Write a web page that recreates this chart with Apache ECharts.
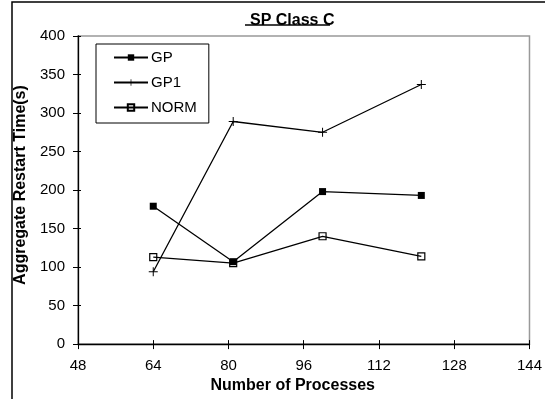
<!DOCTYPE html>
<html>
<head>
<meta charset="utf-8">
<script src="https://cdn.jsdelivr.net/npm/echarts@6/dist/echarts.min.js"></script>
<style>
html,body{margin:0;padding:0;background:#fff;}
#c{width:545px;height:399px;}
</style>
</head>
<body>
<div id="c"></div>
<script>
const processes = [64, 81, 100, 121];
const gpValues = [179, 107, 198, 193];
const gp1Values = [94, 289, 275, 337];
const normValues = [113, 105, 140, 114];
const xTicks = [48, 64, 80, 96, 112, 128, 144];
const yTicks = [0, 50, 100, 150, 200, 250, 300, 350, 400];

const FONT = "'Liberation Sans', Arial, sans-serif";
const plusPath = 'path://M4,0 L5,0 L5,4 L9,4 L9,5 L5,5 L5,9 L4,9 L4,5 L0,5 L0,4 L4,4 Z';

function pairs(vals) { return processes.map((x, i) => [x, vals[i]]); }

const chart = echarts.init(document.getElementById('c'), null, {renderer: 'canvas'});

chart.setOption({
  animation: false,
  backgroundColor: '#fff',
  title: {
    text: 'SP Class C',
    left: 245, top: 8,
    textStyle: {fontFamily: FONT, fontSize: 16, fontWeight: 'bold', color: '#000'}
  },
  grid: {
    left: 78, top: 36, width: 456, height: 308.5,
    show: true, borderColor: '#999', borderWidth: 1.5, backgroundColor: 'transparent'
  },
  legend: {
    orient: 'vertical', left: 96, top: 44,
    padding: [6, 12, 8, 17],
    itemGap: 10, itemWidth: 34, itemHeight: 8,
    borderColor: '#000', borderWidth: 1,
    textStyle: {fontFamily: FONT, fontSize: 15, color: '#000', padding: [0, 0, 0, -2], height: 15, lineHeight: 15},
    data: ['GP', 'GP1', 'NORM']
  },
  xAxis: [{
    type: 'value', min: xTicks[0], max: xTicks[xTicks.length - 1], interval: 16,
    name: 'Number of Processes', nameLocation: 'middle', nameGap: 31,
    nameTextStyle: {fontFamily: FONT, fontSize: 16, fontWeight: 'bold', color: '#000', padding: [0, 22, 0, 0]},
    axisLine: {show: true, lineStyle: {color: '#000', width: 1.3}},
    axisTick: {show: true, length: 5, lineStyle: {color: '#000', width: 1}},
    axisLabel: {margin: 14, color: '#000', fontSize: 15, fontFamily: FONT},
    splitLine: {show: false}
  }, {
    type: 'value', min: xTicks[0], max: xTicks[xTicks.length - 1], interval: 16, position: 'bottom',
    axisLine: {show: false},
    axisTick: {show: true, inside: true, length: 4, lineStyle: {color: '#000', width: 1}},
    axisLabel: {show: false}, splitLine: {show: false}
  }],
  yAxis: [{
    type: 'value', min: yTicks[0], max: yTicks[yTicks.length - 1], interval: 50,
    name: 'Aggregate Restart Time(s)', nameLocation: 'middle', nameGap: 40, nameRotate: 90,
    nameTextStyle: {fontFamily: FONT, fontSize: 16, fontWeight: 'bold', color: '#000', padding: [0, 0, 0, 10]},
    axisLine: {show: true, lineStyle: {color: '#000', width: 1.3}},
    axisTick: {show: true, length: 5, lineStyle: {color: '#000', width: 1}},
    axisLabel: {margin: 13, color: '#000', fontSize: 15, fontFamily: FONT},
    splitLine: {show: false}
  }, {
    type: 'value', min: yTicks[0], max: yTicks[yTicks.length - 1], interval: 50, position: 'left',
    axisLine: {show: false},
    axisTick: {show: true, inside: true, length: 3, lineStyle: {color: '#000', width: 1}},
    axisLabel: {show: false}, splitLine: {show: false}
  }],
  series: [{
    name: 'GP', type: 'line', data: pairs(gpValues),
    symbol: 'rect', symbolSize: 7, showAllSymbol: true,
    lineStyle: {color: '#000', width: 1.3},
    itemStyle: {color: '#000', borderColor: '#000', borderWidth: 0}
  }, {
    name: 'GP1', type: 'line', data: pairs(gp1Values),
    symbol: plusPath, symbolSize: 9, symbolKeepAspect: true,
    lineStyle: {color: '#000', width: 1.3},
    itemStyle: {color: '#000', borderWidth: 0}
  }, {
    name: 'NORM', type: 'line', data: pairs(normValues),
    symbol: 'rect', symbolSize: 7,
    lineStyle: {color: '#000', width: 1.3},
    itemStyle: {color: 'rgba(255,255,255,0)', borderColor: '#000', borderWidth: 1.2}
  }],
  graphic: [{
    type: 'rect', shape: {x: 12, y: 2, width: 700, height: 600},
    style: {fill: 'none', stroke: '#000', lineWidth: 1.5}, silent: true, z: 100
  }, {
    type: 'line', shape: {x1: 245, y1: 25, x2: 330, y2: 25},
    style: {stroke: '#000', lineWidth: 1.5}, silent: true, z: 100
  }]
});
</script>
</body>
</html>
